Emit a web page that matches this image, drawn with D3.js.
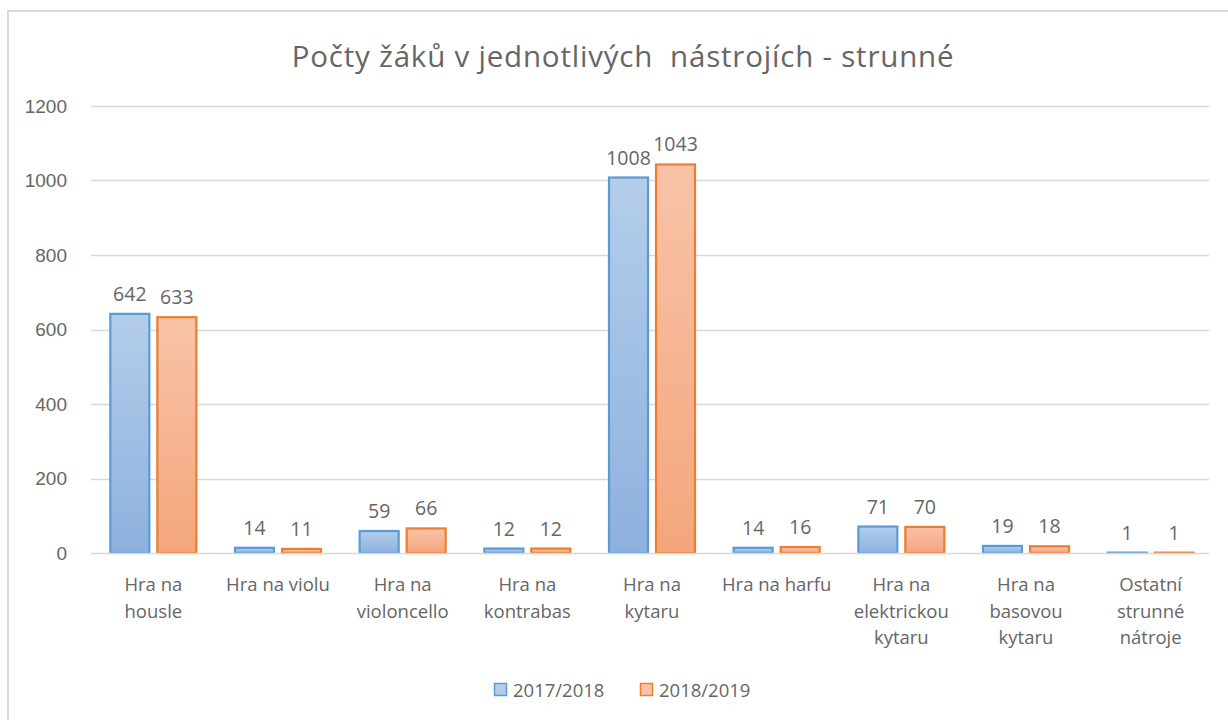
<!DOCTYPE html>
<html>
<head>
<meta charset="utf-8">
<script src="https://cdn.jsdelivr.net/npm/d3@7"></script>
<style>
  body { margin: 0; background: #fff; }
  svg { display: block; font-family: "Open Sans", "Noto Sans", sans-serif; }
</style>
</head>
<body>
<svg id="chart" width="1228" height="720"></svg>
<script>
// categories (multi-line labels split by \n)
const categories = [
  'Hra na\nhousle',
  'Hra na violu',
  'Hra na\nvioloncello',
  'Hra na\nkontrabas',
  'Hra na\nkytaru',
  'Hra na harfu',
  'Hra na\nelektrickou\nkytaru',
  'Hra na\nbasovou\nkytaru',
  'Ostatní\nstrunné\nnátroje'
]
const seriesNames = ['2017/2018', '2018/2019']
const values2017 = [642, 14, 59, 12, 1008, 14, 71, 19, 1]
const values2018 = [633, 11, 66, 12, 1043, 16, 70, 18, 1]
const yTicks = [0, 200, 400, 600, 800, 1000, 1200]

const MARGINS = { top: 106, left: 91 }
const TEXT = '#666666'

const svg = d3.select('#chart')
const width = 1213 - MARGINS.left
const height = 553 - MARGINS.top

const colors = [
  { stroke: '#5b9bd5', top: '#b4cdea', bottom: '#8db1de' },
  { stroke: '#ed7d31', top: '#f8c3a8', bottom: '#f4a67c' }
]

const defs = svg.append('defs')
colors.forEach((c, i) => {
  const g = defs.append('linearGradient')
    .attr('id', 'grad' + i)
    .attr('x1', 0).attr('y1', 0).attr('x2', 0).attr('y2', 1)
  g.append('stop').attr('offset', '0%').attr('stop-color', c.top)
  g.append('stop').attr('offset', '100%').attr('stop-color', c.bottom)
})

// chart border
svg.append('rect')
  .attr('x', 8).attr('y', 11)
  .attr('width', 1240).attr('height', 740)
  .attr('fill', '#fff')
  .attr('stroke', '#d9d9d9')
  .attr('stroke-width', 2)

svg.append('text')
  .attr('x', 623).attr('y', 67)
  .attr('text-anchor', 'middle')
  .attr('fill', TEXT)
  .attr('font-size', 29.5)
  .attr('letter-spacing', 0.8)
  .attr('xml:space', 'preserve')
  .text('Počty žáků v jednotlivých  nástrojích - strunné')

const x0 = d3.scaleBand()
  .domain(categories)
  .range([0, width])

const x1 = d3.scaleBand()
  .domain(seriesNames)
  .range([x0.bandwidth() * 0.155, x0.bandwidth() * 0.845])
  .paddingInner(0.17)

const y = d3.scaleLinear().domain([0, 1200]).range([height, 0])

const g = svg.append('g')
  .attr('transform', 'translate(' + MARGINS.left + ',' + MARGINS.top + ')')

// gridlines
g.append('g')
  .selectAll('line')
  .data(yTicks.filter((t) => t > 0))
  .enter()
  .append('line')
  .attr('x1', 0).attr('x2', width - 4)
  .attr('y1', (d) => Math.round(y(d)) + 0.5)
  .attr('y2', (d) => Math.round(y(d)) + 0.5)
  .attr('stroke', '#d9d9d9')
  .attr('stroke-width', 1.3)

// y axis labels
const yAxis = g.append('g')
  .call(d3.axisLeft(y).tickValues(yTicks).tickFormat(d3.format('d')).tickSize(0).tickPadding(24))
yAxis.select('.domain').remove()
yAxis.selectAll('text')
  .attr('fill', TEXT)
  .attr('font-size', 19)
  .attr('font-family', null)

const data = categories.map((c, i) => ({
  cat: c,
  vals: [values2017[i], values2018[i]]
}))

const groups = g.selectAll('.cat')
  .data(data)
  .enter()
  .append('g')
  .attr('transform', (d) => 'translate(' + x0(d.cat) + ',0)')

groups.selectAll('rect')
  .data((d) => d.vals.map((v, i) => ({ v: v, s: seriesNames[i], i: i })))
  .enter()
  .append('rect')
  .attr('x', (d) => x1(d.s))
  .attr('width', x1.bandwidth())
  .attr('y', (d) => y(d.v))
  .attr('height', (d) => height - y(d.v))
  .attr('fill', (d) => 'url(#grad' + d.i + ')')
  .attr('stroke', (d) => colors[d.i].stroke)
  .attr('stroke-width', 2.2)

groups.selectAll('.lbl')
  .data((d) => d.vals.map((v, i) => ({ v: v, s: seriesNames[i], i: i })))
  .enter()
  .append('text')
  .attr('x', (d) => x1(d.s) + x1.bandwidth() / 2)
  .attr('y', (d) => y(d.v) - 13)
  .attr('text-anchor', 'middle')
  .attr('fill', TEXT)
  .attr('font-size', 19.5)
  .text((d) => d.v)

// baseline
g.append('line')
  .attr('x1', 0).attr('x2', width - 4)
  .attr('y1', height + 0.5).attr('y2', height + 0.5)
  .attr('stroke', '#d9d9d9')
  .attr('stroke-width', 1.5)

// category labels
const catLabels = g.append('g')
  .selectAll('text')
  .data(categories)
  .enter()
  .append('text')
  .attr('text-anchor', 'middle')
  .attr('fill', TEXT)
  .attr('font-size', 18.5)
  .attr('transform', (d) => 'translate(' + (x0(d) + x0.bandwidth() / 2) + ',' + (height + 38) + ')')

catLabels.selectAll('tspan')
  .data((d) => d.split('\n'))
  .enter()
  .append('tspan')
  .attr('x', 0)
  .attr('dy', (d, i) => (i === 0 ? 0 : 26.5))
  .text((d) => d)

// legend
const legend = svg.append('g').attr('transform', 'translate(494,690)')
const legendItems = legend.selectAll('g')
  .data(seriesNames)
  .enter()
  .append('g')
  .attr('transform', (d, i) => 'translate(' + i * 146 + ',0)')

legendItems.append('rect')
  .attr('x', 0.5).attr('y', -6.5)
  .attr('width', 12).attr('height', 12)
  .attr('fill', (d, i) => colors[i].top)
  .attr('stroke', (d, i) => colors[i].stroke)
  .attr('stroke-width', 1.5)

legendItems.append('text')
  .attr('x', 19).attr('y', 7)
  .attr('fill', TEXT)
  .attr('font-size', 18.5)
  .text((d) => d)
</script>
</body>
</html>
